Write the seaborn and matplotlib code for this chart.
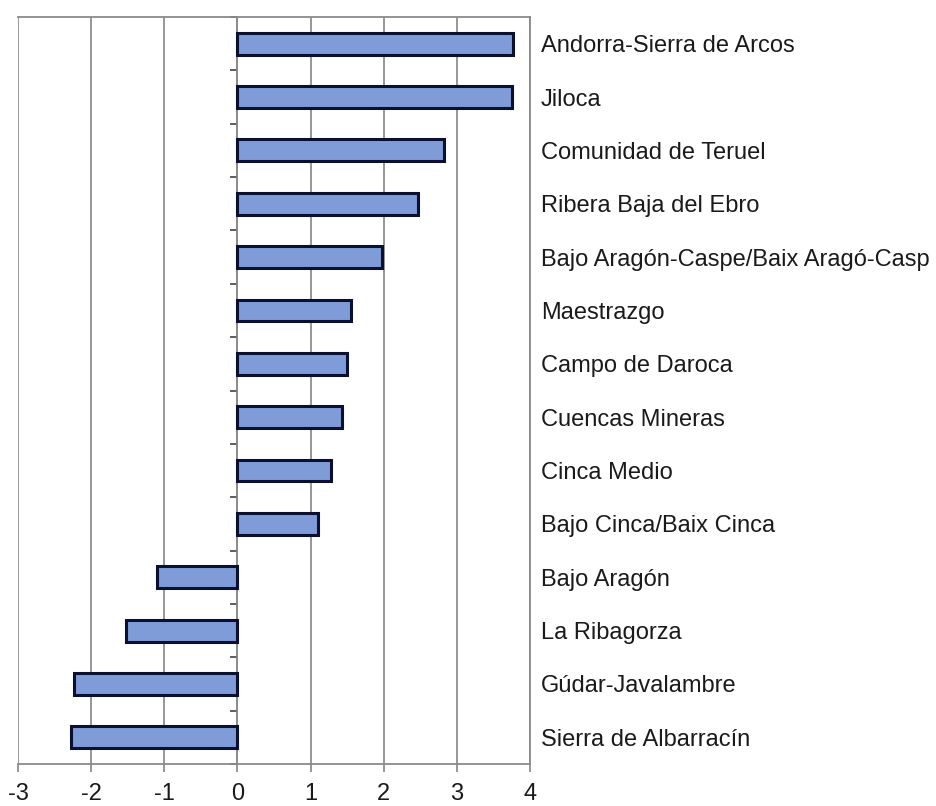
import numpy as np
import pandas as pd
import matplotlib
matplotlib.use("Agg")
import matplotlib.pyplot as plt
import seaborn as sns

# Data
comarcas = [
    "Andorra-Sierra de Arcos",
    "Jiloca",
    "Comunidad de Teruel",
    "Ribera Baja del Ebro",
    "Bajo Aragón-Caspe/Baix Aragó-Casp",
    "Maestrazgo",
    "Campo de Daroca",
    "Cuencas Mineras",
    "Cinca Medio",
    "Bajo Cinca/Baix Cinca",
    "Bajo Aragón",
    "La Ribagorza",
    "Gúdar-Javalambre",
    "Sierra de Albarracín",
]
valores = [3.77, 3.76, 2.82, 2.47, 1.98, 1.55, 1.50, 1.43, 1.28, 1.10,
           -1.10, -1.53, -2.23, -2.27]
x_ticks = [-3, -2, -1, 0, 1, 2, 3, 4]

df = pd.DataFrame({"comarca": comarcas, "valor": valores})

sns.set_theme(style="white")
plt.rcParams["font.family"] = ["Liberation Sans", "DejaVu Sans"]

fig = plt.figure(figsize=(9.37, 8.06), dpi=100)
ax = fig.add_axes([0.0192, 0.0521, 0.5464, 0.9268])

sns.barplot(
    data=df, x="valor", y="comarca", orient="h",
    color="#7f9bd8", edgecolor="#0b1030", linewidth=2.2,
    width=0.41, saturation=1, errorbar=None, ax=ax, zorder=3,
)

ax.set_xlim(-3, 4)
ax.set_ylim(len(comarcas) - 0.5, -0.5)
ax.set_xticks(x_ticks)
ax.set_xticklabels([str(t) for t in x_ticks], fontsize=17, color="#1a1a1a")
ax.grid(axis="x", color="#7a7a7a", linewidth=1.1, zorder=0)
ax.set_axisbelow(True)

# category labels on the right side
ax.yaxis.set_ticks_position("right")
ax.tick_params(axis="y", which="major", length=0, pad=8,
               labelright=True, labelleft=False, labelsize=17,
               labelcolor="#1a1a1a")
# minor ticks on the zero axis between categories
ax.spines["left"].set_position(("data", 0))
ax.spines["left"].set_color("#8a8a8a")
ax.spines["left"].set_linewidth(1.1)
ax.set_yticks(np.arange(len(comarcas) + 1) - 0.5, minor=True)
ax.tick_params(axis="y", which="minor", left=True, right=False, length=5,
               width=1.1, color="#333333", direction="out")

ax.tick_params(axis="x", which="major", bottom=True, length=6, width=1.1,
               color="#7a7a7a", pad=8)
for side in ["top", "right", "bottom"]:
    ax.spines[side].set_color("#8a8a8a")
    ax.spines[side].set_linewidth(1.3)

ax.set_xlabel("")
ax.set_ylabel("")

fig.savefig("out.png", dpi=100, facecolor="white")
